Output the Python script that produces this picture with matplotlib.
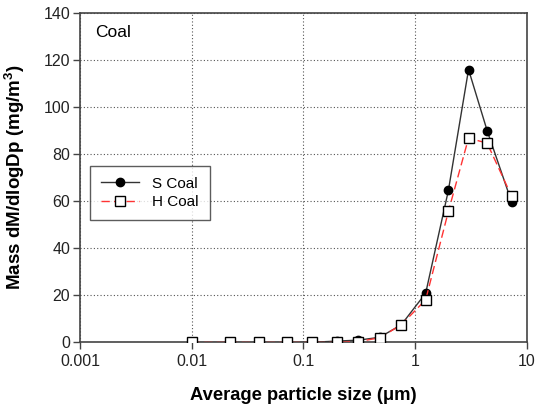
import matplotlib
matplotlib.use("Agg")
import matplotlib.pyplot as plt
from matplotlib.ticker import FixedLocator, FixedFormatter, NullLocator

plt.rcParams["font.family"] = ["Liberation Sans", "DejaVu Sans"]
plt.rcParams["mathtext.fontset"] = "custom"
plt.rcParams["mathtext.rm"] = "Liberation Sans"
plt.rcParams["mathtext.bf"] = "Liberation Sans:bold"

# ---------------- DATA ----------------
size_um = [0.01, 0.022, 0.040, 0.071, 0.12, 0.20, 0.31, 0.48, 0.75, 1.24, 1.98, 3.0, 4.4, 7.3]
s_coal = [0.0, 0.0, 0.0, 0.0, 0.1, 0.6, 1.0, 2.2, 7.5, 20.9, 64.5, 115.8, 89.9, 59.5]
h_coal = [0.0, 0.0, 0.0, 0.0, 0.0, 0.0, 0.4, 2.0, 7.5, 18.1, 55.6, 86.7, 84.6, 62.0]

x_ticks = [0.001, 0.01, 0.1, 1, 10]
x_tick_labels = ["0.001", "0.01", "0.1", "1", "10"]
y_ticks = [0, 20, 40, 60, 80, 100, 120, 140]

# ---------------- PLOT ----------------
fig = plt.figure(figsize=(5.35, 4.09), dpi=100)
ax = fig.add_axes([0.1495, 0.1626, 0.8355, 0.8068])

ax.plot(size_um, s_coal, color="#333333", linewidth=1.0, marker="o",
        markersize=6, markerfacecolor="black", markeredgecolor="black",
        label="S Coal", zorder=3)
ax.plot(size_um, h_coal, color="#ff3333", linewidth=1.0, linestyle=(0, (6, 3)),
        marker="s", markersize=6.5, markerfacecolor="white",
        markeredgecolor="black", markeredgewidth=1.0, label="H Coal", zorder=4)

ax.set_xscale("log")
ax.set_xlim(0.001, 10)
ax.set_ylim(0, 140)
ax.xaxis.set_major_locator(FixedLocator(x_ticks))
ax.xaxis.set_major_formatter(FixedFormatter(x_tick_labels))
ax.xaxis.set_minor_locator(NullLocator())
ax.set_yticks(y_ticks)

ax.grid(True, which="major", linestyle=(0, (1, 2)), color="#555555", linewidth=0.8)
ax.set_axisbelow(True)

for sp in ax.spines.values():
    sp.set_color("#444444")
    sp.set_linewidth(1.2)
ax.tick_params(direction="out", length=5, width=1.0, color="#444444",
               labelsize=11.5, labelcolor="#222222")
ax.tick_params(axis="x", pad=3)
ax.tick_params(axis="y", pad=2)

ax.set_xlabel("Average particle size (\u03bcm)", fontsize=13.2, fontweight="bold", labelpad=13)
ax.set_ylabel(r"Mass dM/dlogDp (mg/m$^{\mathbf{3}}$)", fontsize=13.5, fontweight="bold", labelpad=12)

ax.text(0.034, 0.938, "Coal", transform=ax.transAxes, fontsize=12.5, va="center")

leg = ax.legend(loc="upper left", bbox_to_anchor=(0.022, 0.535), borderaxespad=0,
                fontsize=11, frameon=True, fancybox=False, edgecolor="#333333",
                handlelength=2.5, handletextpad=0.9, borderpad=0.7, labelspacing=0.3)
leg.get_frame().set_linewidth(1.0)

plt.savefig("out.png", dpi=100)
plt.close()
